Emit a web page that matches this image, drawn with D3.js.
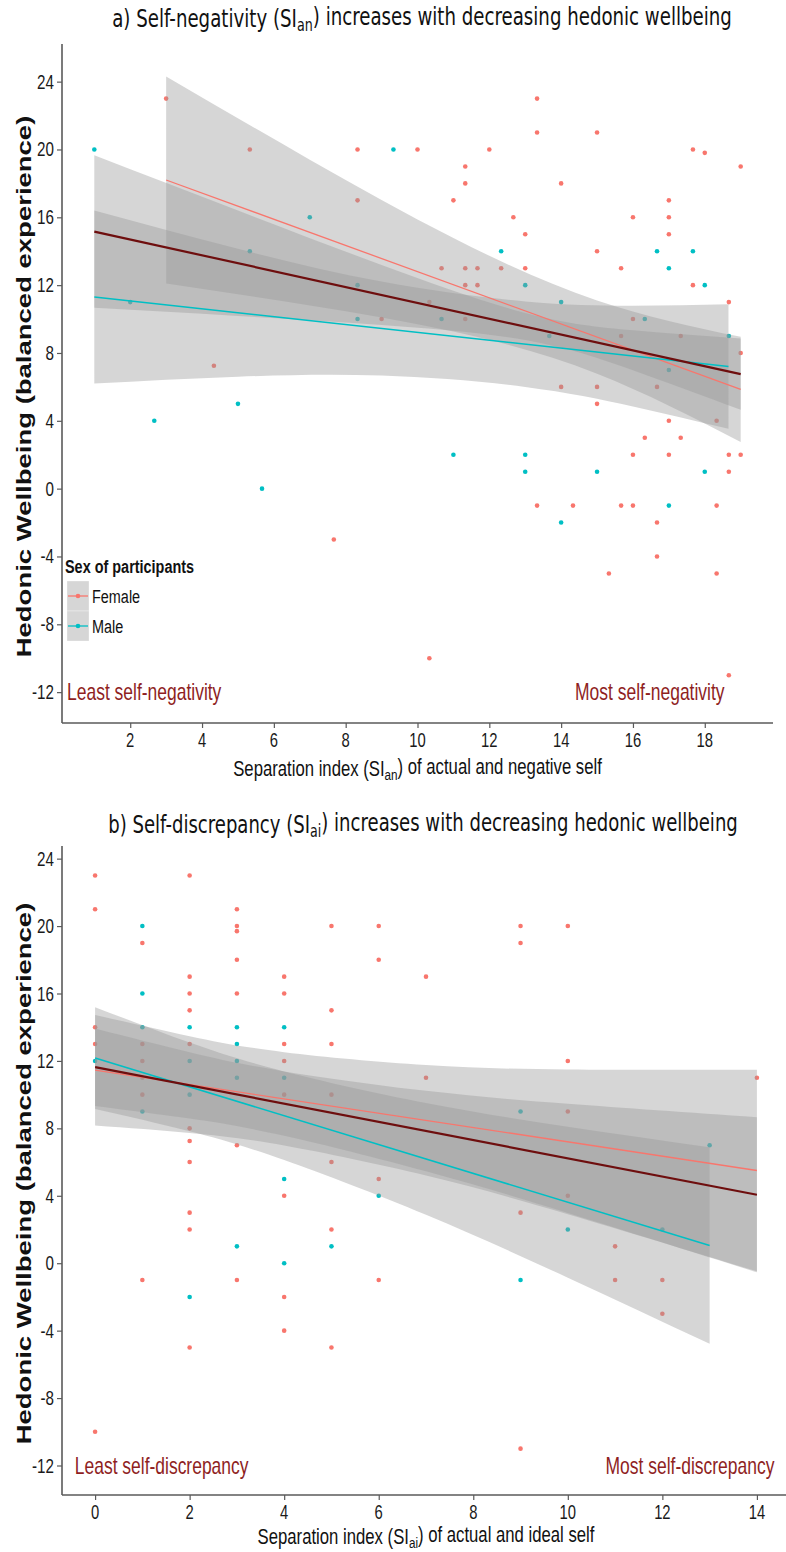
<!DOCTYPE html>
<html>
<head>
<meta charset="utf-8">
<script src="https://cdn.jsdelivr.net/npm/d3@7"></script>
<style>
  html, body { margin: 0; padding: 0; background: #ffffff; }
  svg { display: block; }
</style>
</head>
<body>
<svg id="chart" width="786" height="1552"></svg>
<script>
// ---------- Panel a: separation index of actual and negative self ----------
const femaleA = [
  [3,23],[5.33,20],[8.33,20],[10,20],[12,20],[13.33,23],[13.33,21],[11.33,19],[11.33,18],[11,17],
  [8.33,17],[12.67,16],[13,15],[10.67,13],[11.33,13],[11.67,13],[12.33,13],[13,13],[11.33,12],[11.67,12],
  [10.33,11],[9,10],[11.33,10],[15,21],[17.67,20],[18,19.8],[19,19],[14,18],[17,17],[16,16],
  [17,16],[17,15],[15,14],[15.67,13],[17.67,12],[18.67,11],[16,10],[15.67,9],[17.33,9],[19,8],
  [4.33,7.25],[7.67,-3],[14,6],[15,6],[16.67,6],[15,5],[17,4],[18.33,4],[16.33,3],[17.33,3],
  [16,2],[17,2],[18.67,2],[19,2],[18.67,1],[13.33,-1],[14.33,-1],[15.67,-1],[16,-1],[18.33,-1],
  [16.67,-2],[16.67,-4],[15.33,-5],[18.33,-5],[10.33,-10],[18.67,-11]
];
const maleA = [
  [1,20],[7,16],[5.33,14],[2,11],[9.33,20],[12.33,14],[8.33,12],[13,12],[8.33,10],[10.67,10],
  [16.67,14],[17.67,14],[17,13],[18,12],[14,11],[16.33,10],[13.67,9],[18.67,9],[17,7],[2.67,4],
  [5,5],[5.67,0],[11,2],[13,2],[13,1],[15,1],[18,1],[17,-1],[14,-2]
];
// fitted lines: [x start, y start, x end, y end]
const fitAFemale = [3, 18.2, 19, 5.85];
const fitAMale = [1, 11.3, 18.66, 7.2];
const fitAAll = [1, 15.16, 19, 6.75];
// confidence bands: [x, lower, upper]
const bandAFemale = [[3,12.1,24.3],[7,10.8,19.4],[11,9.26,14.78],[15,6.78,11.1],[19,2.75,8.95]];
const bandAMale = [[1,6.2,16.4],[5,6.6,14.14],[9,6.67,12.21],[13,6.0,11.04],[16,4.85,10.79],[18.66,3.53,10.87]];
const bandAAll = [[1,10.66,19.66],[5,10.18,16.4],[9,9.65,13.19],[13,8.76,10.36],[16,6.98,9.34],[19,4.65,8.85]];
const xTicksA = [2,4,6,8,10,12,14,16,18];

// ---------- Panel b: separation index of actual and ideal self ----------
const femaleB = [
  [0,23],[0,21],[1,19],[2,23],[3,21],[3,20],[3,19.7],[3,18],[2,17],[4,17],
  [2,16],[3,16],[4,16],[2,15],[0,14],[0,13],[1,13],[2,13],[4,13],[1,12],
  [4,12],[1,11],[4,10],[1,10],[2,8],[2,7.25],[3,7],[2,6],[5,6],[6,5],
  [4,4],[2,3],[2,2],[5,2],[1,-1],[3,-1],[6,-1],[4,-2],[4,-4],[2,-5],
  [5,-5],[0,-10],[5,20],[6,20],[9,20],[10,20],[9,19],[6,18],[7,17],[5,15],
  [5,13],[10,12],[7,11],[14,11],[5,10],[10,9],[10,4],[9,3],[11,1],[11,-1],
  [12,-1],[12,-3],[9,-11]
];
const maleB = [
  [1,20],[1,16],[1,14],[2,14],[3,14],[4,14],[3,13],[0,12],[2,12],[3,12],
  [3,11],[4,11],[2,10],[1,9],[4,5],[6,4],[3,1],[5,1],[4,0],[2,-2],
  [9,9],[13,7],[10,2],[12,2],[9,-1]
];
const fitBFemale = [0, 11.45, 14, 5.5];
const fitBMale = [0, 12.17, 13, 1.05];
const fitBAll = [0, 11.63, 14, 4.06];
const bandBFemale = [[0,8.17,14.73],[2,7.73,13.47],[4,6.98,12.52],[7,5.2,11.76],[10,2.91,11.49],[14,-0.48,11.48]];
const bandBMale = [[0,9.15,15.19],[2,7.83,13.09],[4,6.12,11.38],[7,2.87,9.51],[10,-0.86,8.1],[13,-4.78,6.88]];
const bandBAll = [[0,9.33,13.93],[2,8.58,12.52],[4,7.56,11.38],[7,5.45,10.23],[10,2.98,9.46],[14,-0.54,8.66]];
const xTicksB = [0,2,4,6,8,10,12,14];

const yTicks = [24,20,16,12,8,4,0,-4,-8,-12];
const sexes = ["Female", "Male"];

// ---------- styling ----------
const COL_F = "#F8766D", COL_M = "#00BFC4";
const COL_ALL = "#6e0e0e";
const COL_NOTE = "#8f1f1f";
const AXIS_COL = "#5a5a5a";
const SX = 0.76;                 // horizontal squeeze applied to text
const SANS = "'Liberation Sans', Arial, sans-serif";
const TITLE_FONT = "'DejaVu Sans', sans-serif";

const svg = d3.select("#chart");

// text drawn with a horizontal squeeze
function sText(g, x, y, anchor, size, weight, fill, parts, rot) {
  const t = g.append("text")
    .attr("transform", `translate(${x},${y}) scale(${SX},1)` + (rot ? ` rotate(${rot})` : ""))
    .attr("text-anchor", anchor)
    .attr("font-family", SANS)
    .attr("font-size", size)
    .attr("font-weight", weight)
    .attr("fill", fill);
  addParts(t, parts);
  return t;
}
// parts: array of strings or {sub: "..."} for subscripts
function addParts(t, parts) {
  let lowered = false;
  parts.forEach(p => {
    if (typeof p === "string") {
      const s = t.append("tspan").text(p);
      if (lowered) { s.attr("dy", "-0.25em"); lowered = false; }
    } else {
      t.append("tspan").attr("font-size", "70%").attr("dy", "0.25em").text(p.sub);
      lowered = true;
    }
  });
}
function fitTitle(g, cx, y, width, size, parts) {
  const t = g.append("text")
    .attr("text-anchor", "middle")
    .attr("font-family", TITLE_FONT)
    .attr("font-size", size)
    .attr("fill", "#111");
  addParts(t, parts);
  const len = t.node().getComputedTextLength();
  t.attr("transform", `translate(${cx},${y}) scale(${width / len},1)`);
}

function panel(cfg) {
  const g = svg.append("g");
  const x = d3.scaleLinear().domain(cfg.xDomain).range([cfg.left, cfg.right]);
  const y = d3.scaleLinear().domain(cfg.yDomain).range([cfg.bottom, cfg.top]);

  // points
  const pts = g.append("g");
  [[cfg.female, COL_F], [cfg.male, COL_M]].forEach(([data, col]) => {
    pts.selectAll(null).data(data).enter().append("circle")
      .attr("cx", d => x(d[0])).attr("cy", d => y(d[1]))
      .attr("r", 2.3).attr("fill", col);
  });

  // confidence bands
  const area = d3.area()
    .x(d => x(d[0])).y0(d => y(d[1])).y1(d => y(d[2]))
    .curve(d3.curveNatural);
  [cfg.bandF, cfg.bandM, cfg.bandAll].forEach(b => {
    g.append("path").attr("d", area(b))
      .attr("fill", "#999999").attr("fill-opacity", 0.4);
  });

  // fitted lines
  const line = (f, col, w) => g.append("line")
    .attr("x1", x(f[0])).attr("y1", y(f[1]))
    .attr("x2", x(f[2])).attr("y2", y(f[3]))
    .attr("stroke", col).attr("stroke-width", w);
  line(cfg.fitF, COL_F, 1.3);
  line(cfg.fitM, COL_M, 1.5);
  line(cfg.fitAll, COL_ALL, 2.2);

  // axes
  const ax = g.append("g").attr("transform", `translate(0,${cfg.bottom})`)
    .call(d3.axisBottom(x).tickValues(cfg.xTicks).tickSize(5).tickPadding(4).tickFormat(d3.format("d")));
  const ay = g.append("g").attr("transform", `translate(${cfg.left},0)`)
    .call(d3.axisLeft(y).tickValues(yTicks).tickSize(5).tickPadding(4).tickFormat(d3.format("d")));
  [ax, ay].forEach(a => {
    a.select(".domain").remove();
    a.selectAll(".tick line").attr("stroke", AXIS_COL).attr("stroke-width", 1.2);
    a.selectAll(".tick text").remove();
  });
  cfg.xTicks.forEach(v => sText(g, x(v), cfg.bottom + 24, "middle", 19.5, "normal", "#1a1a1a", [String(v)]));
  yTicks.forEach(v => sText(g, cfg.left - 8, y(v) + 7, "end", 20, "normal", "#1a1a1a", [String(v)]));
  g.append("line").attr("x1", cfg.left).attr("x2", cfg.left)
    .attr("y1", cfg.top).attr("y2", cfg.bottom)
    .attr("stroke", AXIS_COL).attr("stroke-width", 1.6);
  g.append("line").attr("x1", cfg.left).attr("x2", cfg.axisRight)
    .attr("y1", cfg.bottom).attr("y2", cfg.bottom)
    .attr("stroke", AXIS_COL).attr("stroke-width", 1.6);

  // axis titles
  sText(g, (cfg.left + cfg.right) / 2, cfg.bottom + cfg.xTitleGap, "middle", 22, "normal", "#111", cfg.xTitle);
  sText(g, 31, (cfg.top + cfg.bottom) / 2 + 3, "middle", 27.5, "bold", "#111",
    ["Hedonic Wellbeing (balanced experience)"], -90);

  // end annotations
  sText(g, x(cfg.noteLeft[0]), y(cfg.noteLeft[1]) + 8, "start", 23, "normal", COL_NOTE, [cfg.noteLeft[2]]);
  sText(g, x(cfg.noteRight[0]), y(cfg.noteRight[1]) + 8, "end", 23, "normal", COL_NOTE, [cfg.noteRight[2]]);

  // title
  fitTitle(g, cfg.titleX, cfg.titleY, cfg.titleW, 25, cfg.title);
  return g;
}

panel({
  female: femaleA, male: maleA,
  fitF: fitAFemale, fitM: fitAMale, fitAll: fitAAll,
  bandF: bandAFemale, bandM: bandAMale, bandAll: bandAAll,
  xDomain: [0.1, 19.9], yDomain: [-13.82, 26.22],
  left: 62, right: 773, axisRight: 773, top: 44, bottom: 723,
  xTicks: xTicksA, xTitleGap: 53,
  xTitle: ["Separation index (SI", {sub: "an"}, ") of actual and negative self"],
  title: ["a) Self-negativity (SI", {sub: "an"}, ") increases with decreasing hedonic wellbeing"],
  titleX: 422, titleY: 27, titleW: 620,
  noteLeft: [0.24, -12, "Least self-negativity"],
  noteRight: [18.55, -12, "Most self-negativity"]
});

panel({
  female: femaleB, male: maleB,
  fitF: fitBFemale, fitM: fitBMale, fitAll: fitBAll,
  bandF: bandBFemale, bandM: bandBMale, bandAll: bandBAll,
  xDomain: [-0.7, 14.7], yDomain: [-13.75, 24.75],
  left: 62, right: 790, axisRight: 786, top: 846, bottom: 1495,
  xTicks: xTicksB, xTitleGap: 49,
  xTitle: ["Separation index (SI", {sub: "ai"}, ") of actual and ideal self"],
  title: ["b) Self-discrepancy (SI", {sub: "ai"}, ") increases with decreasing hedonic wellbeing"],
  titleX: 423, titleY: 833, titleW: 630,
  noteLeft: [-0.43, -12, "Least self-discrepancy"],
  noteRight: [14.37, -12, "Most self-discrepancy"]
});

// legend (panel a)
const leg = svg.append("g");
sText(leg, 65, 573, "start", 19, "bold", "#111", ["Sex of participants"]);
const keyCols = [COL_F, COL_M];
sexes.forEach((s, i) => {
  const ky = 581 + i * 30;
  leg.append("rect").attr("x", 67).attr("y", ky).attr("width", 22).attr("height", 30)
    .attr("fill", "#999999").attr("fill-opacity", 0.4)
    .attr("stroke", "#ffffff").attr("stroke-opacity", 0.5).attr("stroke-width", 0.6);
  leg.append("line").attr("x1", 68).attr("x2", 88).attr("y1", ky + 15).attr("y2", ky + 15)
    .attr("stroke", keyCols[i]).attr("stroke-width", 1.3);
  leg.append("circle").attr("cx", 78).attr("cy", ky + 15).attr("r", 2.3).attr("fill", keyCols[i]);
  sText(leg, 92, ky + 22, "start", 19, "normal", "#111", [s]);
});
</script>
</body>
</html>
